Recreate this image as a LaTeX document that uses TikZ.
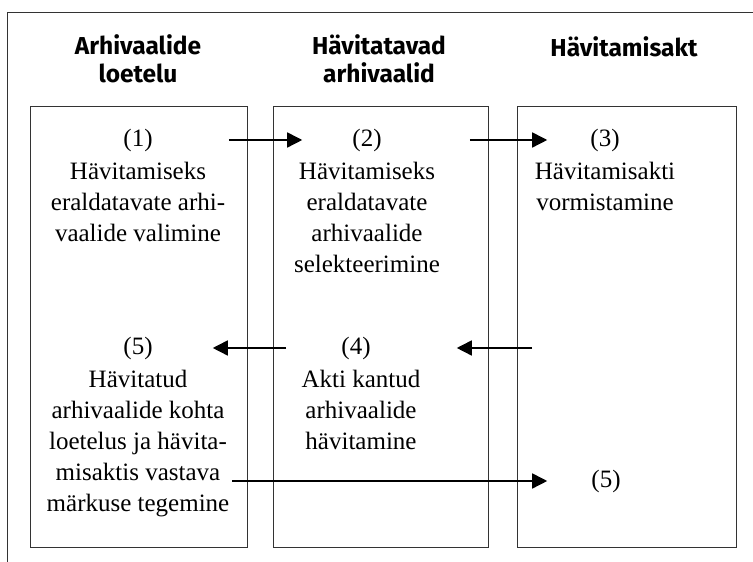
\documentclass[tikz,border=0pt]{standalone}
\usepackage{fontspec}
\setmainfont{Liberation Serif}
\newfontfamily\headfont{Fira Sans}
\usetikzlibrary{arrows.meta,positioning}

\begin{document}
\begin{tikzpicture}[x=1pt,y=-1pt,
  col/.style={draw=black!80,line width=0.9pt,anchor=north west,inner sep=0pt,minimum height=441pt},
  head/.style={align=center,anchor=north,inner sep=0pt,font=\headfont\bfseries\fontsize{24.5}{28}\selectfont},
  num/.style={anchor=base,inner sep=0pt,font=\fontsize{25}{31}\selectfont},
  body/.style={align=center,inner sep=0pt,font=\fontsize{25}{31}\selectfont},
  flow/.style={-{Triangle[length=15pt,width=15pt]},line width=1.5pt}]
\useasboundingbox (0,0) rectangle (753,562);
\draw[line width=0.9pt,black!80] (7,562) |- (753,12);

% columns
\node[col,minimum width=217pt] (loetelu) at (30,106) {};
\node[col,minimum width=215pt] (valik) at (273,106) {};
\node[col,minimum width=219pt] (akt) at (517,106) {};
\node[head] (h1) at (138,34) {Arhivaalide\\loetelu};
\node[head] (h2) at (379,34) {Hävitatavad\\arhivaalid};
\node[head] (h3) at (624,36) {Hävitamisakt};

% steps
\node[num] (num1) at (138,146) {(1)};
\node[body,below=10pt of num1] (txt1) {Hävitamiseks\\eraldatavate arhi-\\vaalide valimine};
\node[num] (num2) at (367,146) {(2)};
\node[body,below=10pt of num2] (txt2) {Hävitamiseks\\eraldatavate\\arhivaalide\\selekteerimine};
\node[num] (num3) at (605,146) {(3)};
\node[body,below=10pt of num3] (txt3) {Hävitamisakti\\vormistamine};
\node[num] (num4) at (356,354) {(4)};
\node[body,below=10pt of num4,xshift=5pt] (txt4) {Akti kantud\\arhivaalide\\hävitamine};
\node[num] (num5) at (138,354) {(5)};
\node[body,below=10pt of num5] (txt5) {Hävitatud\\arhivaalide kohta\\loetelus ja hävita-\\misaktis vastava\\märkuse tegemine};
\node[num] (num5b) at (606,487) {(5)};

\draw[flow,shorten <=76pt,shorten >=50pt] (num1) -- (num2);
\draw[flow,shorten <=88pt,shorten >=43pt] (num2) -- (num3);
\draw[flow,shorten >=86pt] ([xshift=15pt]akt.west |- num4) -- (num4);
\draw[flow,shorten <=55pt,shorten >=60pt] (num4) -- (num5);
\draw[flow,shorten >=44pt] ([xshift=3pt]txt5.east |- num5b) -- (num5b);
\end{tikzpicture}
\end{document}
